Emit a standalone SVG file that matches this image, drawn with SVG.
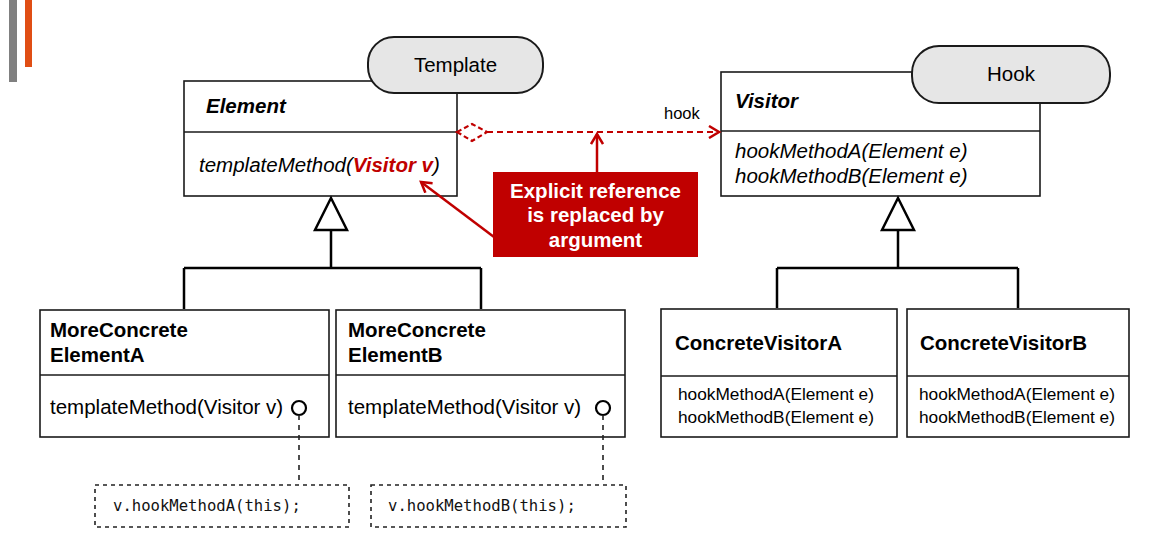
<svg xmlns="http://www.w3.org/2000/svg" width="1176" height="558" viewBox="0 0 1176 558">
<style>
.box{fill:#fff;stroke:#1a1a1a;stroke-width:1.6}
.pill{fill:#e6e6e6;stroke:#1a1a1a;stroke-width:2}
.t{font-family:"Liberation Sans",Arial,sans-serif;fill:#000}
.b{font-weight:bold}
.i{font-style:italic}
.gen{fill:none;stroke:#000;stroke-width:2.5}
.note{fill:#fff;stroke:#222;stroke-width:1.6;stroke-dasharray:4,4}
.mono{font-family:"DejaVu Sans Mono","Liberation Mono",monospace;font-size:15.6px;fill:#111}
.red{stroke:#c00000;stroke-width:2.5;fill:none}
</style>
<defs>
<marker id="open" markerWidth="14" markerHeight="14" refX="11" refY="7" orient="auto" markerUnits="userSpaceOnUse">
<path d="M1,1 L11,7 L1,13" fill="none" stroke="#c00000" stroke-width="2.5"/>
</marker>
</defs>
<rect x="9" y="0" width="8" height="82" fill="#808080"/>
<rect x="25" y="0" width="7" height="67" fill="#e04e14"/>

<g id="element">
<rect class="box" x="184" y="81" width="273" height="115"/>
<line x1="184" y1="132" x2="457" y2="132" stroke="#1a1a1a" stroke-width="1.6"/>
<text class="t b i" x="206" y="113" font-size="20.5">Element</text>
<text class="t i" x="199" y="172" font-size="20.5">templateMethod(<tspan class="b" fill="#c00000">Visitor v</tspan>)</text>
</g>
<g id="template">
<rect class="pill" x="368" y="37" width="175" height="56" rx="26"/>
<text class="t" x="455.5" y="72" font-size="20.5" text-anchor="middle">Template</text>
</g>

<g id="visitor">
<rect class="box" x="721" y="72" width="319" height="124"/>
<line x1="721" y1="131" x2="1040" y2="131" stroke="#1a1a1a" stroke-width="1.6"/>
<text class="t b i" x="735" y="108" font-size="20.5">Visitor</text>
<text class="t i" x="735" y="158" font-size="20.5">hookMethodA(Element e)</text>
<text class="t i" x="735" y="183" font-size="20.5">hookMethodB(Element e)</text>
</g>
<g id="hook">
<rect class="pill" x="912" y="46" width="198" height="57" rx="27"/>
<text class="t" x="1011" y="81" font-size="20.5" text-anchor="middle">Hook</text>
</g>

<g id="callout">
<rect x="493" y="172" width="205" height="85" fill="#c00000"/>
<text class="t b" x="595.5" y="198" font-size="20.5" text-anchor="middle" style="fill:#fff">Explicit reference</text>
<text class="t b" x="595.5" y="222" font-size="20.5" text-anchor="middle" style="fill:#fff">is replaced by</text>
<text class="t b" x="595.5" y="247" font-size="20.5" text-anchor="middle" style="fill:#fff">argument</text>
</g>

<g id="elementA">
<rect class="box" x="40" y="310" width="289" height="127"/>
<line x1="40" y1="375" x2="329" y2="375" stroke="#1a1a1a" stroke-width="1.6"/>
<text class="t b" x="50" y="337" font-size="20.5">MoreConcrete</text>
<text class="t b" x="50" y="362" font-size="20.5">ElementA</text>
<text class="t" x="50" y="414" font-size="20.5">templateMethod(Visitor v)</text>
<circle cx="299" cy="408" r="7" fill="#fff" stroke="#000" stroke-width="2.2"/>
</g>
<g id="elementB">
<rect class="box" x="336" y="310" width="289" height="127"/>
<line x1="336" y1="375" x2="625" y2="375" stroke="#1a1a1a" stroke-width="1.6"/>
<text class="t b" x="348" y="337" font-size="20.5">MoreConcrete</text>
<text class="t b" x="348" y="362" font-size="20.5">ElementB</text>
<text class="t" x="348" y="414" font-size="20.5">templateMethod(Visitor v)</text>
<circle cx="603" cy="408" r="7" fill="#fff" stroke="#000" stroke-width="2.2"/>
</g>

<g id="noteA">
<rect class="note" x="95" y="485" width="254" height="42"/>
<text class="mono" x="113" y="511">v.hookMethodA(this);</text>
</g>
<g id="noteB">
<rect class="note" x="371" y="485" width="255" height="42"/>
<text class="mono" x="388" y="511">v.hookMethodB(this);</text>
</g>

<g id="concreteVisitorA">
<rect class="box" x="661" y="309" width="236" height="128"/>
<line x1="661" y1="376" x2="897" y2="376" stroke="#1a1a1a" stroke-width="1.6"/>
<text class="t b" x="675" y="350" font-size="20.5">ConcreteVisitorA</text>
<text class="t" x="678" y="400" font-size="17.3">hookMethodA(Element e)</text>
<text class="t" x="678" y="423" font-size="17.3">hookMethodB(Element e)</text>
</g>
<g id="concreteVisitorB">
<rect class="box" x="907" y="309" width="222" height="128"/>
<line x1="907" y1="376" x2="1129" y2="376" stroke="#1a1a1a" stroke-width="1.6"/>
<text class="t b" x="920" y="350" font-size="20.5">ConcreteVisitorB</text>
<text class="t" x="919" y="400" font-size="17.3">hookMethodA(Element e)</text>
<text class="t" x="919" y="423" font-size="17.3">hookMethodB(Element e)</text>
</g>

<g id="connectors">
<path class="gen" d="M331,198 L347,230 L315,230 Z" fill="#fff"/>
<path class="gen" d="M331,230 V268 M184,268 H481 M184,268 V309 M481,268 V309"/>
<path class="gen" d="M898,198 L914,230 L882,230 Z"/>
<path class="gen" d="M898,230 V268 M777,268 H1018 M777,268 V308 M1018,268 V308"/>
<path d="M299,415 V484 M603,415 V484" stroke="#222" stroke-width="1.6" stroke-dasharray="5,5" fill="none"/>
<path d="M457,132 L472,124 L487,132 L472,141 Z" fill="#fff" stroke="#c00000" stroke-width="2.2" stroke-dasharray="5,3"/>
<path d="M487,132 H719" stroke="#c00000" stroke-width="2.2" stroke-dasharray="6,4" fill="none" marker-end="url(#open)"/>
<text class="t" x="664" y="119" font-size="16.5">hook</text>
<path class="red" d="M597,172 V134" marker-end="url(#open)"/>
<path class="red" d="M494,237 L421,182" marker-end="url(#open)"/>
</g>
</svg>
